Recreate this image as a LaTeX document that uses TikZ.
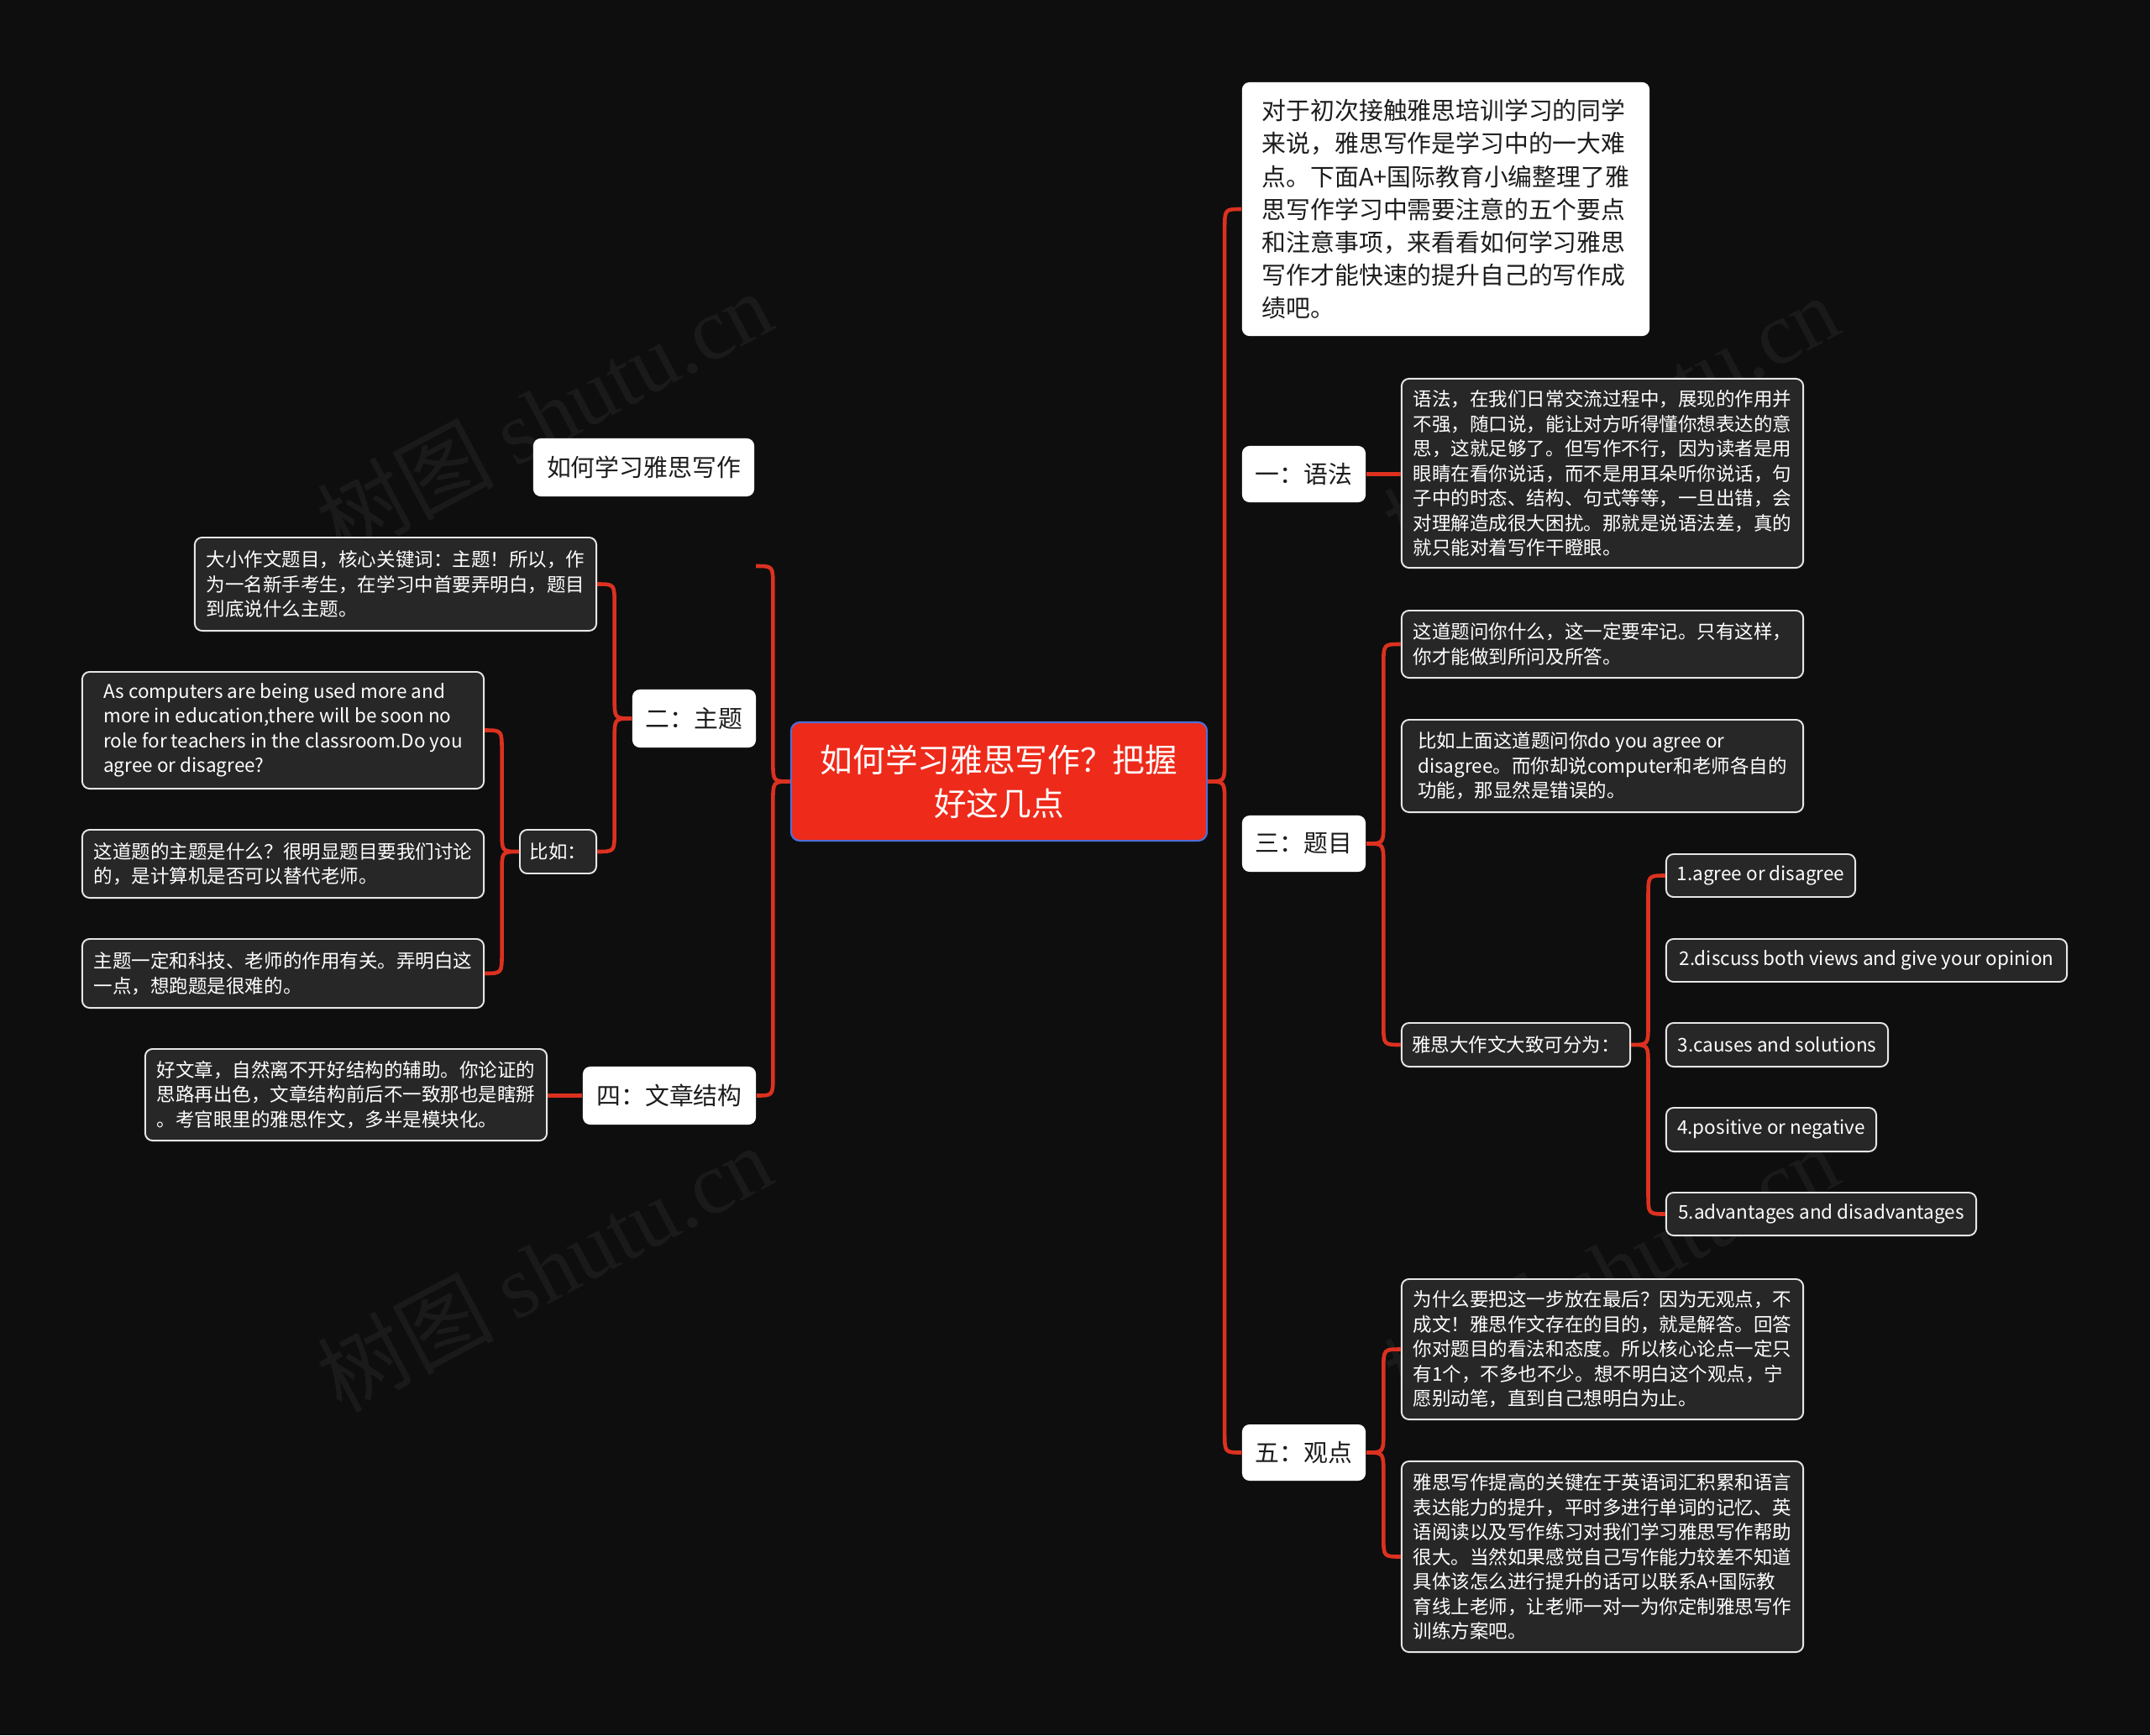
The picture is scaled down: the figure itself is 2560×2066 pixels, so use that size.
\documentclass[tikz,border=0pt]{standalone}
\usepackage{fontspec}
\setmainfont{Noto Sans CJK SC}
\newfontfamily\wmserif{Liberation Serif}
\usetikzlibrary{calc}

\definecolor{bgdark}{HTML}{0E0E0E}
\definecolor{linkred}{HTML}{DC3120}
\definecolor{rootred}{HTML}{EE2A1A}
\definecolor{rootedge}{HTML}{4F6FD6}
\definecolor{leafgray}{HTML}{272727}
\definecolor{leafedge}{HTML}{E6E6E6}
\definecolor{inkdark}{HTML}{1C1C1C}

% curly brace from a parent anchor to its first and last child
\newcommand\bracelink[3]{%
  \draw[link] let \p1=(#1), \p2=(#2), \p3=(#3), \p4=($(#1)!.5!(#2)$) in
    (\p2) .. controls (\x4,\y2) .. (\x4,\y2-7pt) -- (\x4,\y1+7pt)
    .. controls (\x4,\y1) .. (\p1)
    .. controls (\x4,\y1) .. (\x4,\y1-7pt) -- (\x4,\y3+7pt)
    .. controls (\x4,\y3) .. (\p3);}

\begin{document}
\begin{tikzpicture}[x=0.01cm, y=-0.01cm,
    root/.style={rectangle,rounded corners=3pt,fill=rootred,draw=rootedge,line width=0.6pt,
        text=white,font=\fontsize{11}{14.9}\selectfont,align=center,inner sep=0pt},
    topic/.style={rectangle,rounded corners=2.5pt,fill=white,text=inkdark,
        font=\fontsize{8.2}{11.1}\selectfont,align=left,inner sep=0pt},
    leaf/.style={rectangle,rounded corners=2.5pt,fill=leafgray,draw=leafedge,line width=0.55pt,
        text=white,font=\fontsize{6.4}{8.4}\selectfont,align=left,inner sep=0pt},
    link/.style={draw=linkred,line width=1.3pt},
    wm/.style={text=white,opacity=0.05,font=\fontsize{30}{30}\selectfont},
]

    \fill[bgdark] (0,0) rectangle (2560,2066);
    \useasboundingbox (0,0) rectangle (2560,2066);

    %%%
    % watermarks
    \foreach \pos/\k in {{(648,493)}/a, {(648,1510)}/b, {(1918,498)}/c, {(1918,1510)}/d}
        \node[wm,rotate=28] (wm\k) at \pos {树图 {\wmserif shutu.cn}};

    %%%
    % centre
    \node[root,minimum width=4.95cm,minimum height=1.41cm] (root) at (1189.5,930.5)
        {如何学习雅思写作？把握\\好这几点};

    %%%
    % right side
    \node[topic,minimum width=4.85cm,minimum height=3.02cm] (intro) at (1721.5,249)
        {对于初次接触雅思培训学习的同学\\来说，雅思写作是学习中的一大难\\点。下面A+国际教育小编整理了雅\\思写作学习中需要注意的五个要点\\和注意事项，来看看如何学习雅思\\写作才能快速的提升自己的写作成\\绩吧。};

    \node[topic,minimum width=1.47cm,minimum height=0.67cm] (n1) at (1552.5,564.5) {一：语法};
    \node[leaf,minimum width=4.78cm,minimum height=2.25cm] (n1a) at (1908,563.5)
        {语法，在我们日常交流过程中，展现的作用并\\不强，随口说，能让对方听得懂你想表达的意\\思，这就足够了。但写作不行，因为读者是用\\眼睛在看你说话，而不是用耳朵听你说话，句\\子中的时态、结构、句式等等，一旦出错，会\\对理解造成很大困扰。那就是说语法差，真的\\就只能对着写作干瞪眼。};

    \node[topic,minimum width=1.47cm,minimum height=0.67cm] (n3) at (1552.5,1004.5) {三：题目};
    \node[leaf,minimum width=4.78cm,minimum height=0.80cm] (n3a) at (1908,767)
        {这道题问你什么，这一定要牢记。只有这样，\\你才能做到所问及所答。};
    \node[leaf,minimum width=4.78cm,minimum height=1.10cm] (n3b) at (1908,912)
        {比如上面这道题问你do you agree or\\disagree。而你却说computer和老师各自的\\功能，那显然是错误的。};
    \node[leaf,minimum width=2.72cm,minimum height=0.52cm] (n3c) at (1805,1244) {雅思大作文大致可分为：};

    \node[leaf,minimum width=2.25cm,minimum height=0.51cm] (t1) at (2096.5,1042.5) {1.agree or disagree};
    \node[leaf,minimum width=4.77cm,minimum height=0.51cm] (t2) at (2222.5,1143.5) {2.discuss both views and give your opinion};
    \node[leaf,minimum width=2.64cm,minimum height=0.52cm] (t3) at (2116,1244) {3.causes and solutions};
    \node[leaf,minimum width=2.50cm,minimum height=0.52cm] (t4) at (2109,1345) {4.positive or negative};
    \node[leaf,minimum width=3.69cm,minimum height=0.51cm] (t5) at (2168.5,1445.5) {5.advantages and disadvantages};

    \node[topic,minimum width=1.47cm,minimum height=0.67cm] (n5) at (1552.5,1729.5) {五：观点};
    \node[leaf,minimum width=4.78cm,minimum height=1.67cm] (n5a) at (1908,1606.5)
        {为什么要把这一步放在最后？因为无观点，不\\成文！雅思作文存在的目的，就是解答。回答\\你对题目的看法和态度。所以核心论点一定只\\有1个，不多也不少。想不明白这个观点，宁\\愿别动笔，直到自己想明白为止。};
    \node[leaf,minimum width=4.78cm,minimum height=2.27cm] (n5b) at (1908,1853.5)
        {雅思写作提高的关键在于英语词汇积累和语言\\表达能力的提升，平时多进行单词的记忆、英\\语阅读以及写作练习对我们学习雅思写作帮助\\很大。当然如果感觉自己写作能力较差不知道\\具体该怎么进行提升的话可以联系A+国际教\\育线上老师，让老师一对一为你定制雅思写作\\训练方案吧。};

    %%%
    % left side
    \node[topic,minimum width=2.63cm,minimum height=0.69cm] (title) at (766.5,556.5) {如何学习雅思写作};

    \node[topic,minimum width=1.47cm,minimum height=0.69cm] (n2) at (826.5,855.5) {二：主题};
    \node[leaf,minimum width=4.78cm,minimum height=1.11cm] (n2a) at (471,695.5)
        {大小作文题目，核心关键词：主题！所以，作\\为一名新手考生，在学习中首要弄明白，题目\\到底说什么主题。};
    \node[leaf,minimum width=0.91cm,minimum height=0.52cm] (eg) at (664.5,1014) {比如：};
    \node[leaf,minimum width=4.78cm,minimum height=1.39cm] (eg1) at (337,869.5)
        {As computers are being used more and\\more in education,there will be soon no\\role for teachers in the classroom.Do you\\agree or disagree?};
    \node[leaf,minimum width=4.78cm,minimum height=0.81cm] (eg2) at (337,1028.5)
        {这道题的主题是什么？很明显题目要我们讨论\\的，是计算机是否可以替代老师。};
    \node[leaf,minimum width=4.78cm,minimum height=0.82cm] (eg3) at (337,1159)
        {主题一定和科技、老师的作用有关。弄明白这\\一点，想跑题是很难的。};

    \node[topic,minimum width=2.06cm,minimum height=0.69cm] (n4) at (797,1304.5) {四：文章结构};
    \node[leaf,minimum width=4.78cm,minimum height=1.09cm] (n4a) at (412,1303.5)
        {好文章，自然离不开好结构的辅助。你论证的\\思路再出色，文章结构前后不一致那也是瞎掰\\。考官眼里的雅思作文，多半是模块化。};

    %%%
    % connectors
    \coordinate (rootTop) at (900,674);
    \bracelink{root.west}{rootTop}{n4.east}
    \bracelink{root.east}{intro.west}{n5.west}
    \bracelink{n3.east}{n3a.west}{n3c.west}
    \bracelink{n3c.east}{t1.west}{t5.west}
    \bracelink{n5.east}{n5a.west}{n5b.west}
    \bracelink{n2.west}{n2a.east}{eg.east}
    \bracelink{eg.west}{eg1.east}{eg3.east}
    \draw[link] (n1.east) -- (n1.east -| n1a.west);
    \draw[link] (n4.west) -- (n4.west -| n4a.east);

\end{tikzpicture}
\end{document}
